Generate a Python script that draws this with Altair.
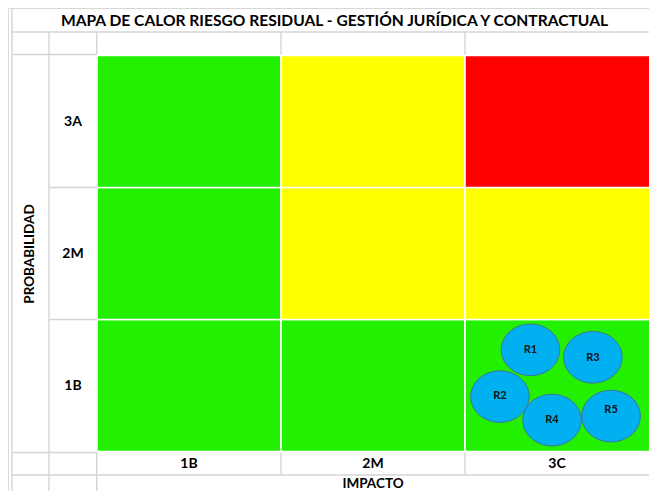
import altair as alt
import pandas as pd

# ---------------- data ----------------
title_text = "MAPA DE CALOR RIESGO RESIDUAL - GESTIÓN JURÍDICA Y CONTRACTUAL"
impact_title = "IMPACTO"
prob_title = "PROBABILIDAD"
impact_levels = ["1B", "2M", "3C"]          # left -> right
prob_levels = ["1B", "2M", "3A"]            # bottom -> top
zone_names = ["bajo", "medio", "alto"]
zone_colors = ["#22f000", "#ffff00", "#ff0000"]
# zone of each cell, one list per probability level, ordered by impact
zone_1B = ["bajo", "bajo", "bajo"]
zone_2M = ["bajo", "medio", "medio"]
zone_3A = ["bajo", "medio", "alto"]

risk_ids = ["R1", "R2", "R3", "R4", "R5"]
risk_impact = ["3C", "3C", "3C", "3C", "3C"]
risk_prob = ["1B", "1B", "1B", "1B", "1B"]
# placement of each risk inside its cell (fraction of the cell)
risk_in_cell_x = [0.356, 0.190, 0.695, 0.473, 0.794]
risk_in_cell_y = [0.770, 0.416, 0.714, 0.238, 0.268]
risk_label_y = [0.770, 0.418, 0.712, 0.236, 0.318]

# ---------------- layout (page pixels) ----------------
W, H = 641, 483
X_A, X_B, X_H = 12, 49, 97
X_END = 8 + W
COL_W = (X_END - X_H) / 3
Y_TOP, Y_T2, Y_H = 8, 32, 55.5
Y_IMP = 475
LAB_H = 22.5
Y_LAB = Y_IMP - LAB_H
ROW_H = (Y_LAB - 1 - Y_H) / 3
Y_BOT = Y_H + 3 * ROW_H


def ux(px):
    return (px - X_H) / COL_W


def uy(py):
    return (Y_BOT - py) / ROW_H


xs = alt.Scale(domain=[ux(8), ux(8 + W)], nice=False, zero=False)
ys = alt.Scale(domain=[uy(8 + H), uy(8)], nice=False, zero=False)

c1 = X_H + COL_W
c2 = X_H + 2 * COL_W
r1 = Y_H + ROW_H
r2 = Y_H + 2 * ROW_H
# spreadsheet grid lines
lines_px = [
    (X_A, Y_TOP, X_END + 5, Y_TOP), (X_A, Y_T2, X_END + 5, Y_T2),
    (X_A, Y_H - 1, X_H, Y_H - 1), (X_B, r1, X_H, r1), (X_B, r2, X_H, r2),
    (X_A, Y_LAB, X_H, Y_LAB), (X_A, Y_IMP, X_END + 5, Y_IMP),
    (X_A, Y_TOP, X_A, 505), (X_B, Y_T2, X_B, 505), (X_H - 0.3, Y_T2, X_H - 0.3, 505),
    (c1, Y_T2, c1, Y_H + 1), (c1, Y_LAB, c1, Y_IMP),
    (c2, Y_T2, c2, Y_H + 1), (c2, Y_LAB, c2, Y_IMP),
]
grid_df = pd.DataFrame(
    [{"x": ux(a), "y": uy(b), "x2": ux(c), "y2": uy(d)} for a, b, c, d in lines_px]
)

# heat cells
zones_by_prob = {"1B": zone_1B, "2M": zone_2M, "3A": zone_3A}
cells = []
for j, p in enumerate(prob_levels):
    for i, imp in enumerate(impact_levels):
        cells.append({"x": i, "x2": i + 1.02 if i == 2 else i + 1, "y": j, "y2": j + 1,
                      "zona": zones_by_prob[p][i], "prob": p, "imp": imp})
cells_df = pd.DataFrame(cells)

# risks
risks = []
for k, r in enumerate(risk_ids):
    i = impact_levels.index(risk_impact[k])
    j = prob_levels.index(risk_prob[k])
    risks.append({"id": r, "x": i + risk_in_cell_x[k], "y": j + risk_in_cell_y[k],
                  "ly": j + risk_label_y[k]})
risk_df = pd.DataFrame(risks)

# texts
row_lab_df = pd.DataFrame({"t": prob_levels,
                           "x": [ux((X_B + X_H) / 2)] * 3,
                           "y": [j + 0.5 for j in range(3)]})
col_lab_df = pd.DataFrame({"t": impact_levels,
                           "x": [i + 0.5 for i in range(3)],
                           "y": [uy((Y_LAB + Y_IMP) / 2)] * 3})
title_df = pd.DataFrame({"t": [title_text], "x": [ux(334.5)], "y": [uy(21)]})
imp_df = pd.DataFrame({"t": [impact_title], "x": [1.5], "y": [uy(Y_IMP + 8.5)]})
prob_df = pd.DataFrame({"t": [prob_title], "x": [ux(30)], "y": [uy((Y_H + Y_LAB) / 2)]})

X = lambda f="x": alt.X(f"{f}:Q", scale=xs, axis=None)
Y = lambda f="y": alt.Y(f"{f}:Q", scale=ys, axis=None)

grid = alt.Chart(grid_df).mark_rule(color="#d4d4d4", strokeWidth=1.4).encode(
    x=X(), y=Y(), x2="x2:Q", y2="y2:Q")

heat = alt.Chart(cells_df).mark_rect(stroke="white", strokeWidth=1.6).encode(
    x=X(), x2="x2:Q", y=Y(), y2="y2:Q",
    color=alt.Color("zona:N", scale=alt.Scale(domain=zone_names, range=zone_colors),
                    legend=None))

ellipse = "M -1 0 A 1 0.882 0 1 0 1 0 A 1 0.882 0 1 0 -1 0 Z"
bubbles = alt.Chart(risk_df).mark_point(
    shape=ellipse, filled=True, fill="#00b0f0", stroke="#41719c",
    strokeWidth=1, opacity=1, size=3420).encode(x=X(), y=Y())

bub_txt = alt.Chart(risk_df).mark_text(
    fontSize=11, fontWeight="bold", color="#111111").encode(
    x=X(), y=Y("ly"), text="id:N")


def txt(df, size, angle=0):
    kw = dict(fontSize=size, fontWeight="bold", color="#000000",
              align="center", baseline="middle")
    if angle:
        kw["angle"] = angle
    return alt.Chart(df).mark_text(**kw).encode(x=X(), y=Y(), text="t:N")


chart = alt.layer(
    grid, heat, bubbles, bub_txt,
    txt(title_df, 15.6), txt(row_lab_df, 14), txt(col_lab_df, 14),
    txt(imp_df, 13.5), txt(prob_df, 13.5, 270),
).properties(
    width=W, height=H, padding=0,
    autosize=alt.AutoSizeParams(type="none"),
    background="white",
).configure_view(stroke=None).configure(font="Lato")

chart.save("out.html", embed_options={"renderer": "svg", "actions": False})
